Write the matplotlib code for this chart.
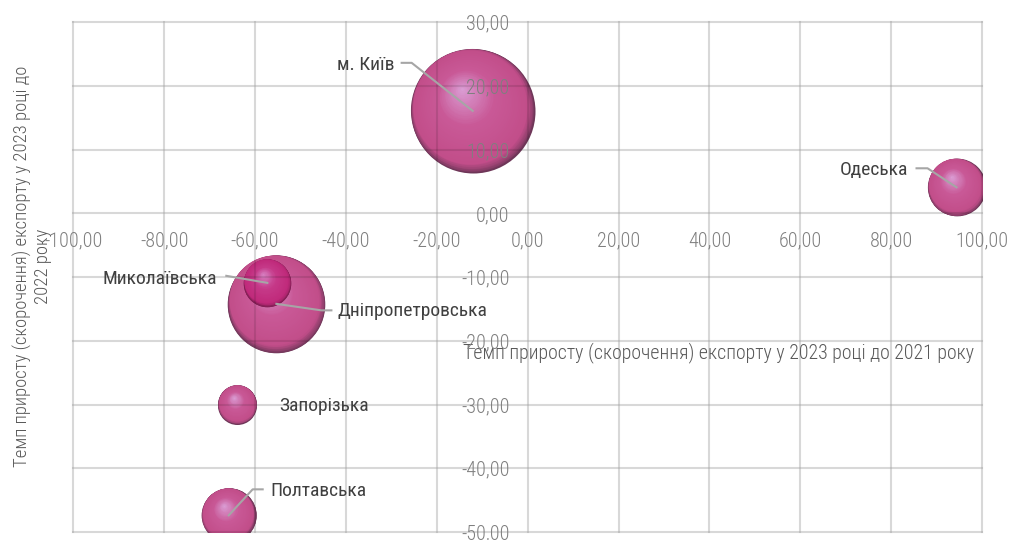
import numpy as np
import matplotlib.pyplot as plt
import matplotlib.transforms as mtransforms
from matplotlib import font_manager
from matplotlib.colors import to_rgb

# вузький шрифт, якщо є; інакше звичайний з меншим кеглем
installed = {f.name for f in font_manager.fontManager.ttflist}
font_scale = 1.0
for fam in ['Roboto Condensed', 'Liberation Sans Narrow', 'Open Sans Condensed']:
    if fam in installed:
        plt.rcParams['font.family'] = [fam, 'DejaVu Sans']
        break
else:
    plt.rcParams['font.family'] = ['Liberation Sans', 'DejaVu Sans']
    font_scale = 0.92

# Області: темп приросту експорту 2023/2021 (x), 2023/2022 (y), відносний обсяг (розмір)
regions = ['м. Київ', 'Одеська', 'Дніпропетровська', 'Миколаївська', 'Запорізька', 'Полтавська']
growth_vs_2021 = [-12.1, 94.4, -55.3, -57.3, -63.9, -65.8]
growth_vs_2022 = [16.1, 4.1, -14.2, -10.9, -30.0, -47.4]
export_volume = [100.0, 21.6, 61.9, 14.7, 9.9, 19.3]

x_ticks = [-100, -80, -60, -40, -20, 0, 20, 40, 60, 80, 100]
y_ticks = [-50, -40, -30, -20, -10, 0, 10, 20, 30]

# підписи: зсув тексту (px), вирівнювання, лінія-виноска (px відносно центру)
label_style = {
    'м. Київ': ((-78, 46), 'right', [(0, 0), (-61, 48), (-71, 48)]),
    'Одеська': ((-48, 17), 'right', [(0, 0), (-29, 19), (-40, 19)]),
    'Дніпропетровська': ((61, -7), 'left', [(0, 0), (45, -6.5), (55, -6.5)]),
    'Миколаївська': ((-50, 4), 'right', [(0, 0), (-41, 7)]),
    'Запорізька': ((42, -1), 'left', None),
    'Полтавська': ((42, 24), 'left', [(0, 0), (24, 26), (34, 26)]),
}

# тінь, основа, середина, відблиск
default_colors = ('#6e3658', '#c24e8a', '#c95997', '#dba0d6')
sphere_colors = {
    'Миколаївська': ('#761d4d', '#c02a7b', '#c63a89', '#d883c4'),
}

fig = plt.figure(figsize=(10.11, 5.40), dpi=100)
ax = fig.add_axes([0.0725, 0.015, 0.8988, 0.9437])
ax.set_xlim(-100, 100)
ax.set_ylim(-50, 30)

# сітка під кулями і ледь помітна над ними
for v in x_ticks:
    ax.axvline(v, color='#f1f1f1', lw=1.5, zorder=1, clip_on=False)
    ax.axvline(v, color='black', lw=1.5, alpha=0.1, zorder=4, clip_on=False)
for v in y_ticks:
    ax.axhline(v, color='#f1f1f1', lw=1.5, zorder=1, clip_on=False)
    ax.axhline(v, color='black', lw=1.5, alpha=0.1, zorder=4, clip_on=False)

max_radius_px = 62.0


def blend(c1, c2, t):
    a, b = np.array(to_rgb(c1)), np.array(to_rgb(c2))
    return tuple(a + (b - a) * t)


def shifted(dx_px, dy_px):
    return ax.transData + mtransforms.ScaledTranslation(dx_px / 100, dy_px / 100, fig.dpi_scale_trans)


def disk(xv, yv, rad, cx, cy, color, z):
    ax.scatter([xv], [yv], s=(2 * rad * 0.72) ** 2, color=color, lw=0,
               transform=shifted(cx, cy), zorder=z)


for name, xv, yv, vol in zip(regions, growth_vs_2021, growth_vs_2022, export_volume):
    r = max_radius_px * np.sqrt(vol / max(export_volume))
    dark, base, mid, light = sphere_colors.get(name, default_colors)
    z = 2.5 if name == 'Миколаївська' else 2
    ux, uy = -0.5, 0.866
    hx, hy = -0.18 * r, 0.36 * r
    rim = 0.08
    # затінений край праворуч знизу
    for k in range(12):
        s = k / 11
        rad = r * (1 - rim * s)
        disk(xv, yv, rad, rim * r * s * ux, rim * r * s * uy, blend(dark, base, s ** 0.8), z)
    # плавний перехід до відблиску вгорі ліворуч
    for k in range(1, 36):
        t = k / 36
        rad = (1 - rim) * r * (1 - t)
        cx = rim * r * ux * (1 - t) + t * hx
        cy = rim * r * uy * (1 - t) + t * hy
        col = blend(base, mid, t / 0.5) if t < 0.5 else blend(mid, light, (t - 0.5) / 0.5)
        disk(xv, yv, rad, cx, cy, col, z)

    (tx, ty), ha, leader = label_style[name]
    if leader is not None:
        tr_px = fig.dpi_scale_trans + mtransforms.ScaledTranslation(xv, yv, ax.transData)
        ax.plot([p[0] / 100 for p in leader], [p[1] / 100 for p in leader], color='#a6a6a6',
                lw=1.5, transform=tr_px, zorder=5, clip_on=False)
    ax.annotate(name, xy=(xv, yv), xytext=(tx * 0.72, ty * 0.72), textcoords='offset points',
                ha=ha, va='center', fontsize=14 * font_scale, color='#404040', zorder=6)

for s in ax.spines.values():
    s.set_visible(False)
ax.spines['bottom'].set_position(('data', 0))
ax.spines['left'].set_position(('data', 0))

ax.set_xticks(x_ticks)
ax.set_yticks(y_ticks)
ax.set_xticklabels([f'{v:.2f}'.replace('.', ',') for v in x_ticks])
ax.set_yticklabels([f'{v:.2f}'.replace('.', ',') for v in y_ticks])
ax.tick_params(axis='both', length=0, labelsize=14.5 * font_scale, labelcolor='#7f7f7f')
for lbl in ax.get_xticklabels() + ax.get_yticklabels():
    lbl.set_fontweight('light')
ax.tick_params(axis='x', pad=13)
ax.tick_params(axis='y', pad=13)
ax.xaxis.set_zorder(7)
ax.yaxis.set_zorder(7)

ax.set_xlabel('Темп приросту (скорочення) експорту у 2023 році до 2021 року',
              fontsize=14.3 * font_scale, color='#595959', fontweight='light')
ax.xaxis.set_label_coords(0.7106, 0.353)
ax.xaxis.label.set_va('center')
ax.set_ylabel('Темп приросту (скорочення) експорту у 2023 році до\n2022 року',
              fontsize=13.4 * font_scale, color='#595959', fontweight='light', linespacing=1.15)
ax.yaxis.set_label_coords(-0.0449, 0.522)
ax.yaxis.label.set_va('center')

fig.savefig('out.png', dpi=100)
